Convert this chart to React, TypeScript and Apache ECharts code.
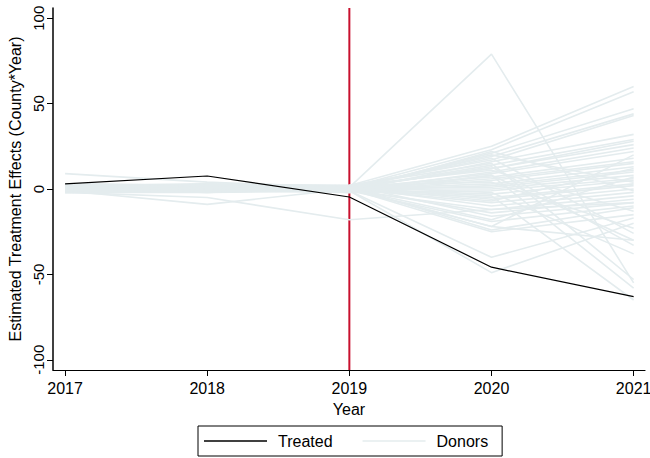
import React, { useEffect, useRef } from "react";
import * as echarts from "echarts";

const years = [2017, 2018, 2019, 2020, 2021];
const yTicks = [-100, -50, 0, 50, 100];
const treated = [3, 7.6, -4.7, -45.8, -63];

const donor01 = [9, 4, 1, 12, 26];
const donor02 = [-1, -9, 0, -22, -30];
const donor03 = [-2, -5, -18, -12, -8];
const donor04 = [1, 0, 1, 79, -55];
const donor05 = [0, 1, -1, -49, -20];
const donor06 = [2, 1, 2, 25, 60];
const donor07 = [1, 2, 1, 23, 57];
const donor08 = [-1, 0, 0, 21, 47];
const donor09 = [0, -1, 1, 19, 44];
const donor10 = [2, 3, 2, 17, 43];
const donor11 = [1, 1, -1, 16, 32];
const donor12 = [-2, -1, 0, 14, 29];
const donor13 = [3, 2, 1, 12, 28];
const donor14 = [0, 0, 2, 11, -13];
const donor15 = [1, -2, -1, 10, 24];
const donor16 = [-1, 1, 0, 9, 22];
const donor17 = [2, 0, -2, 8, -30];
const donor18 = [0, 2, 1, 7, 18];
const donor19 = [1, -1, 0, 6, 16];
const donor20 = [-1, 0, -1, 5, 15];
const donor21 = [3, 1, 2, 4, -23];
const donor22 = [0, 1, 0, 3, 13];
const donor23 = [1, 0, -1, 2, 11];
const donor24 = [-2, -2, 1, 1, 10];
const donor25 = [2, 2, 0, 0, 8];
const donor26 = [0, -1, -2, -1, 6];
const donor27 = [1, 1, 1, -2, -38];
const donor28 = [-1, 0, 0, -3, 5];
const donor29 = [2, 1, -1, -5, 3];
const donor30 = [0, 3, 2, -6, 2];
const donor31 = [1, 0, 0, -8, 0];
const donor32 = [-1, -1, 1, -10, -2];
const donor33 = [0, 2, -1, -12, -4];
const donor34 = [2, 0, 0, -14, -6];
const donor35 = [1, 1, 2, -16, -8];
const donor36 = [-2, 0, -1, -19, -10];
const donor37 = [0, -2, 0, -22, 20];
const donor38 = [1, 1, 1, -24, -11];
const donor39 = [3, 2, 0, -25, -15];
const donor40 = [0, 0, -1, -40, -17];
const donor41 = [1, -1, 1, 18, -26];
const donor42 = [-1, 1, 0, 13, -33];
const donor43 = [2, 0, 2, 15, -53];
const donor44 = [0, 1, -2, 8, -58];
const donor45 = [1, 2, 0, -4, -65];
const donor46 = [-1, 0, 1, -7, 12];
const donor47 = [0, -1, 0, 20, 4];
const donor48 = [2, 1, -1, 22, -1];
const donor49 = [1, 0, 0, -18, 7];

const donors = [
  donor01, donor02, donor03, donor04, donor05, donor06, donor07, donor08, donor09, donor10,
  donor11, donor12, donor13, donor14, donor15, donor16, donor17, donor18, donor19, donor20,
  donor21, donor22, donor23, donor24, donor25, donor26, donor27, donor28, donor29, donor30,
  donor31, donor32, donor33, donor34, donor35, donor36, donor37, donor38, donor39, donor40,
  donor41, donor42, donor43, donor44, donor45, donor46, donor47, donor48, donor49,
];

const treatmentYear = 2019;
const FONT = "Liberation Sans, Arial, Helvetica, sans-serif";
const DONOR_COLOR = "#e4ecee";

export default function App() {
  const ref = useRef<HTMLDivElement>(null);
  useEffect(() => {
    if (!ref.current) return;
    const chart = echarts.init(ref.current, undefined, { renderer: "svg" });
    const pair = (vals: number[]) => years.map((y, i) => [y, vals[i]]);
    const donorSeries = donors.map((d) => ({
      name: "Donors",
      type: "line",
      data: pair(d),
      symbol: "none",
      lineStyle: { color: DONOR_COLOR, width: 1.6 },
      itemStyle: { color: DONOR_COLOR },
      z: 3,
      silent: true,
    }));
    chart.setOption({
      animation: false,
      textStyle: { fontFamily: FONT },
      grid: { left: 53, right: 5, top: 8, bottom: 88, containLabel: false, outerBoundsMode: "none" },
      xAxis: {
        type: "value",
        min: 2016.915,
        max: 2021.08,
        name: "Year",
        nameLocation: "middle",
        nameGap: 31,
        nameTextStyle: { color: "#000", fontSize: 16, fontFamily: FONT },
        splitLine: { show: false },
        axisLine: { show: true, onZero: false, lineStyle: { color: "#000", width: 1.2 } },
        axisTick: { show: true, length: 6, customValues: years, lineStyle: { color: "#000" } },
        axisLabel: {
          customValues: years,
          color: "#000",
          fontSize: 16,
          margin: 10,
          fontFamily: FONT,
          hideOverlap: false,
          formatter: (v: number) => String(v),
        },
        z: 10,
      },
      yAxis: {
        type: "value",
        min: -106,
        max: 106,
        name: "Estimated Treatment Effects (County*Year)",
        nameLocation: "middle",
        nameRotate: 90,
        nameGap: 29,
        nameTextStyle: { color: "#000", fontSize: 16, fontFamily: FONT },
        splitLine: { show: false },
        axisLine: { show: true, onZero: false, lineStyle: { color: "#000", width: 1.5 } },
        axisTick: { show: true, length: 6, customValues: yTicks, lineStyle: { color: "#000" } },
        axisLabel: {
          customValues: yTicks,
          color: "#000",
          fontSize: 15,
          rotate: 90,
          margin: 7,
          fontFamily: FONT,
        },
        z: 10,
      },
      legend: {
        data: [
          { name: "Treated", icon: "rect" },
          { name: "Donors", icon: "rect" },
        ],
        left: 198,
        top: 426,
        orient: "horizontal",
        padding: [6, 14, 6, 6],
        itemWidth: 63,
        itemHeight: 1.6,
        itemGap: 30,
        borderColor: "#000",
        borderWidth: 1,
        borderRadius: 0,
        backgroundColor: "#fff",
        selectedMode: false,
        textStyle: { color: "#000", fontSize: 16, fontFamily: FONT, padding: [0, 0, 0, 6], lineHeight: 18 },
      },
      series: [
        {
          name: "ref",
          type: "line",
          data: [
            [treatmentYear, -106],
            [treatmentYear, 106],
          ],
          symbol: "none",
          lineStyle: { color: "#c8102e", width: 2 },
          z: 2,
          silent: true,
        },
        ...donorSeries,
        {
          name: "Treated",
          type: "line",
          data: pair(treated),
          symbol: "none",
          lineStyle: { color: "#000", width: 1.2 },
          itemStyle: { color: "#000" },
          z: 5,
          silent: true,
        },
      ],
    });
    return () => chart.dispose();
  }, []);
  return <div ref={ref} style={{ width: 650, height: 458, position: "absolute", left: 0, top: 0 }} />;
}
